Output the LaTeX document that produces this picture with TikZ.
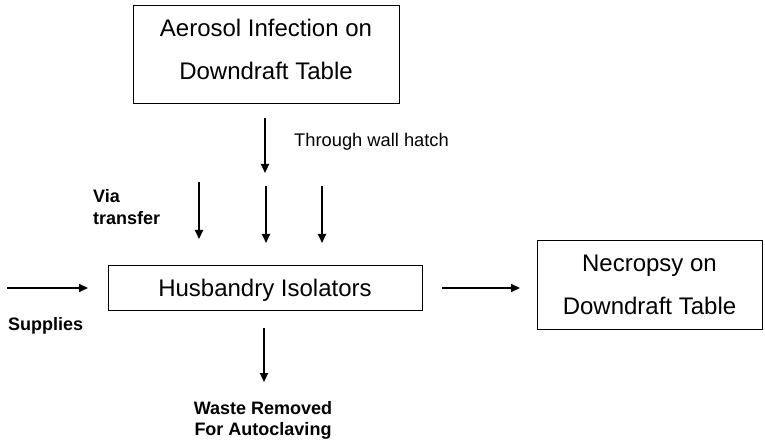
\documentclass[tikz,border=0pt]{standalone}
\usepackage{fontspec}
\setmainfont{Liberation Sans}
\usetikzlibrary{arrows.meta}
\begin{document}
\begin{tikzpicture}[x=1pt,y=-1pt,
  box/.style={draw,line width=0.8pt,rectangle,inner sep=0pt},
  boxtext/.style={align=center,inner sep=0pt,font=\fontsize{24}{43}\selectfont},
  flow/.style={line width=2pt,-{Triangle[length=9pt,width=8pt]}},
  note/.style={inner sep=0pt,font=\fontsize{18.3}{21}\selectfont},
  boldnote/.style={inner sep=0pt,align=center,font=\bfseries\fontsize{18}{21}\selectfont}]
\useasboundingbox (0,0) rectangle (765,443);

% process boxes
\node[box,minimum width=266pt,minimum height=98pt] (infect) at (266,54) {};
\node[boxtext] (infectt) at ([yshift=5pt]infect.center) {Aerosol Infection on\\Downdraft Table};
\node[box,minimum width=314pt,minimum height=45pt] (husb) at (265,287.5) {};
\node[boxtext] (husbt) at ([yshift=-2.5pt]husb.center) {Husbandry Isolators};
\node[box,minimum width=225pt,minimum height=89pt] (necro) at (649.5,284.5) {};
\node[boxtext] (necrot) at (necro.center) {Necropsy on\\Downdraft Table};

% arrow ends
\coordinate (h1s) at (265,118);  \coordinate (h1e) at (265,173);
\coordinate (v1s) at (199,182);  \coordinate (v1e) at (199,239);
\coordinate (v2s) at (266,186);  \coordinate (v2e) at (266,243);
\coordinate (v3s) at (322,186);  \coordinate (v3e) at (322,243);
\coordinate (sups) at (7,288);   \coordinate (supe) at (88,288);
\coordinate (nes) at (442,288);  \coordinate (nee) at (520,288);
\coordinate (ws) at (264,328);   \coordinate (we) at (264,382);

\draw[flow] (h1s) -- (h1e);
\draw[flow] (v1s) -- (v1e);
\draw[flow] (v2s) -- (v2e);
\draw[flow] (v3s) -- (v3e);
\draw[flow] (sups) -- (supe);
\draw[flow] (nes) -- (nee);
\draw[flow] (ws) -- (we);

% labels
\node[note,anchor=west] (hatch) at (294,142) {Through wall hatch};
\node[boldnote,align=left,anchor=north west,font=\bfseries\fontsize{18}{22}\selectfont] (via) at (93,189) {Via\\transfer};
\node[boldnote,anchor=west] (supl) at (8,326) {Supplies};
\node[boldnote,anchor=north] (waste) at (263,401) {Waste Removed\\For Autoclaving};
\end{tikzpicture}
\end{document}
